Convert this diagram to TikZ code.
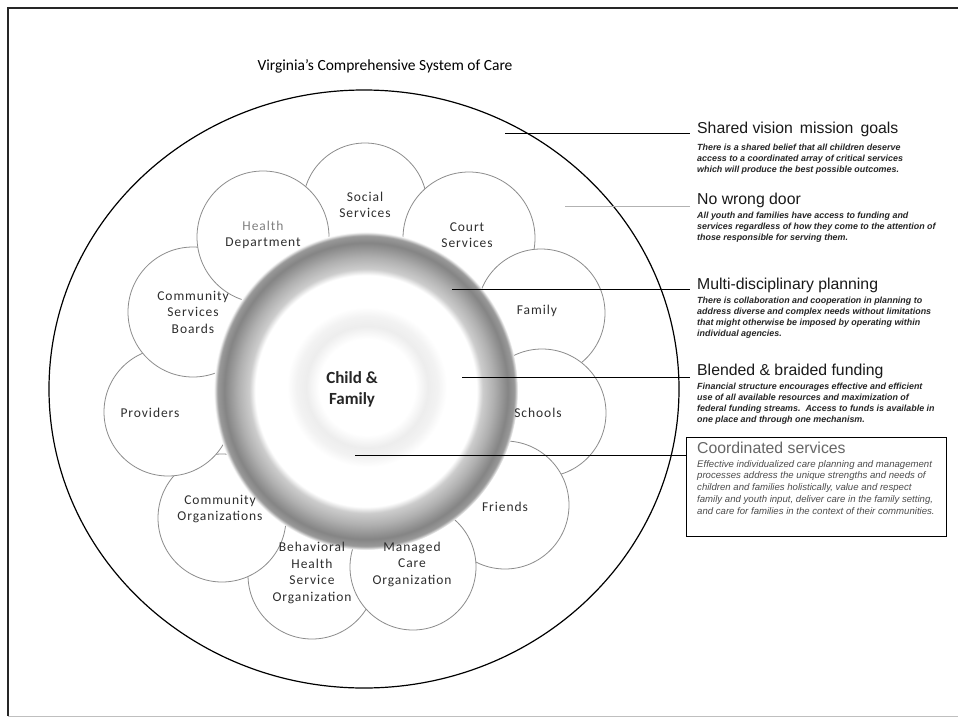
\documentclass[tikz,border=0pt]{standalone}
\usepackage{fontspec}
\setmainfont{Carlito}
\newfontfamily\petalf[LetterSpace=7]{Carlito}
\newfontfamily\arialf{Liberation Sans}
\pgfdeclareradialshading{ringshade}{\pgfpoint{0bp}{0bp}}{color(0bp)=(white); color(18.2bp)=(white); color(19.2bp)=(black!20); color(21bp)=(black!31); color(23.3bp)=(black!48); color(24.4bp)=(black!40); color(25bp)=(white); color(50bp)=(white)}
\pgfdeclareradialshading{softring}{\pgfpoint{0bp}{0bp}}{color(0bp)=(white); color(15bp)=(white); color(19bp)=(black!7); color(22bp)=(black!5); color(25bp)=(white); color(50bp)=(white)}
\begin{document}
\begin{tikzpicture}[x=1pt,y=-1pt,
  petal/.style={circle,draw=black!45,line width=0.8pt,fill=white,inner sep=0pt},
  ptext/.style={align=center,inner sep=0pt,text=black!82,font=\petalf\fontsize{13.5}{16.5}\selectfont},
  headtxt/.style={anchor=west,inner sep=0pt,font=\arialf\fontsize{15.8}{18}\selectfont,text=black!90},
  desctxt/.style={anchor=north west,align=left,inner sep=0pt,font=\arialf\bfseries\itshape\fontsize{8.9}{11.1}\selectfont,text=black!85},
  conn/.style={draw=black,line width=1pt}]
\useasboundingbox (0,0) rectangle (958,723);
\fill[white] (0,0) rectangle (958,723);
% frame
\draw[black!85,line width=1.4pt] (958,8) -- (8,8) -- (8,716);
\draw[black!25,line width=0.8pt] (8,716) -- (958,716);
% title
\node[inner sep=0pt,font=\fontsize{15.5}{18}\selectfont] (title) at (385,66) {Virginia’s Comprehensive System of Care};
% outer circle
\draw[black,line width=1.2pt] (364,389) ellipse [x radius=315pt, y radius=299pt];
% petals (back to front)
\node[petal,minimum size=124pt] (psoc) at (365,205) {};
\node[petal,minimum size=132pt] (pcourt) at (469,238) {};
\node[petal,minimum size=128pt] (pfam) at (541,313) {};
\node[petal,minimum size=128pt] (psch) at (542,413) {};
\node[petal,minimum size=128pt] (pfri) at (505,505) {};
\node[petal,minimum size=128pt] (pbeh) at (312,575) {};
\node[petal,minimum size=126pt] (pman) at (413,567) {};
\node[petal,minimum size=128pt] (pcorg) at (222,518) {};
\node[petal,minimum size=128pt] (pprov) at (168,412) {};
\node[petal,minimum size=130pt] (pcsb) at (193,312) {};
\node[petal,minimum size=132pt] (phealth) at (263,237) {};
% shaded ring
\shade[shading=ringshade] (366,391) ellipse [x radius=152pt, y radius=159pt];
\shade[shading=softring] (367,387) circle (80pt);
% petal texts
\node[ptext] (tsoc) at (365,205) {Social\\Services};
\node[ptext] (tcourt) at (467,235) {Court\\Services};
\node[ptext] (tfam) at (537,311) {Family};
\node[ptext] (tsch) at (538,413) {Schools};
\node[ptext] (tfri) at (505,507) {Friends};
\node[ptext] (tman) at (412,564) {Managed\\Care\\Organization};
\node[ptext] (tbeh) at (312,573) {Behavioral\\Health\\Service\\Organization};
\node[ptext] (tcorg) at (220,509) {Community\\Organizations};
\node[ptext] (tprov) at (150,413) {Providers};
\node[ptext] (tcsb) at (193,312) {Community\\Services\\Boards};
\node[ptext] (thealth) at (263,235) {\textcolor{black!50}{Health}\\Department};
\node[align=center,inner sep=0pt,font=\bfseries\fontsize{17}{21}\selectfont,text=black!85] (child) at (352,389) {Child \&\\Family};
% right labels
\node[headtxt] (h1) at (697,129) {Shared vision\, mission\, goals};
\node[desctxt] (d1) at (697,144) {There is a shared belief that all children deserve\\access to a coordinated array of critical services\\which will produce the best possible outcomes.};
\node[headtxt] (h2) at (697,200) {No wrong door};
\node[desctxt] (d2) at (697,212) {All youth and families have access to funding and\\services regardless of how they come to the attention of\\those responsible for serving them.};
\node[headtxt] (h3) at (697,285) {Multi-disciplinary planning};
\node[desctxt] (d3) at (697,297) {There is collaboration and cooperation in planning to\\address diverse and complex needs without limitations\\that might otherwise be imposed by operating within\\individual agencies.};
\node[headtxt] (h4) at (697,371) {Blended \& braided funding};
\node[desctxt] (d4) at (697,383) {Financial structure encourages effective and efficient\\use of all available resources and maximization of\\federal funding streams.\ \ Access to funds is available in\\one place and through one mechanism.};
\node[draw=black,line width=1.4pt,anchor=north west,minimum width=260pt,minimum height=99pt,inner sep=0pt] (box) at (686,437) {};
\node[headtxt,text=black!60] (h5) at (697,448) {Coordinated services};
\node[desctxt,font=\arialf\itshape\fontsize{9.6}{11.8}\selectfont,text=black!70] (d5) at (697,460) {Effective individualized care planning and management\\processes address the unique strengths and needs of\\children and families holistically, value and respect\\family and youth input, deliver care in the family setting,\\and care for families in the context of their communities.};
% connectors
\coordinate (c1) at (505,133);
\coordinate (e1) at (690,133);
\coordinate (c2) at (565,206);
\coordinate (e2) at (690,206);
\coordinate (c3) at (452,289);
\coordinate (e3) at (690,289);
\coordinate (c4) at (462,377);
\coordinate (e4) at (690,377);
\coordinate (c5) at (355,455);
\draw[conn] (c1) -- (e1);
\draw[black!30,line width=1pt] (c2) -- (e2);
\draw[conn] (c3) -- (e3);
\draw[conn] (c4) -- (e4);
\draw[conn] (c5) -- (c5 -| box.west);
\end{tikzpicture}
\end{document}
